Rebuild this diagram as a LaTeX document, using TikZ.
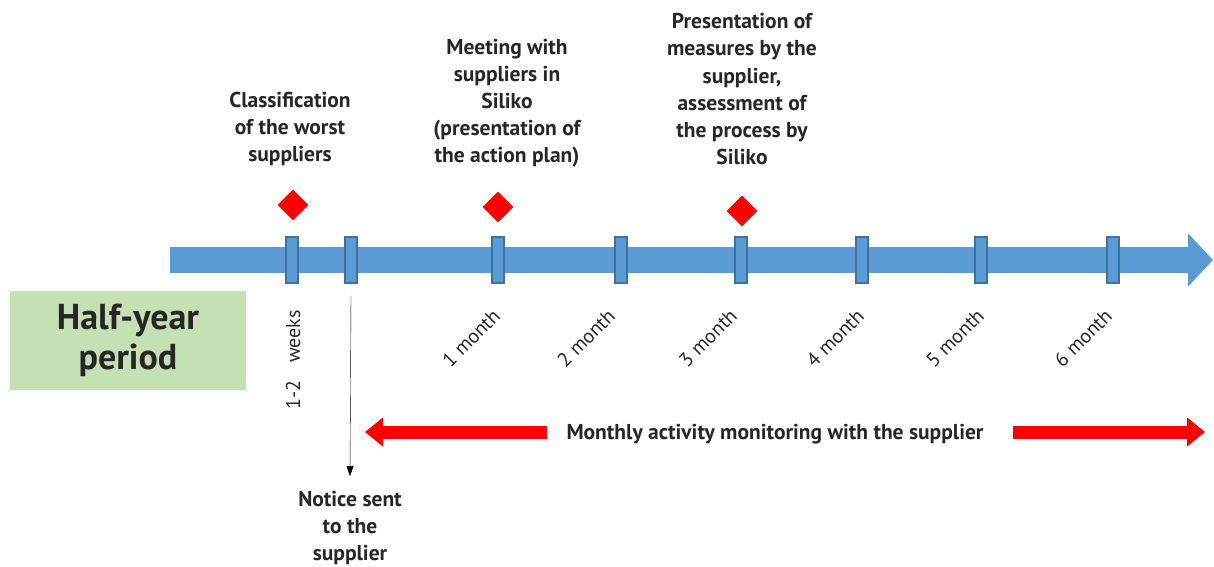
\documentclass[tikz,border=0pt]{standalone}
\usepackage{fontspec}
\setmainfont{PT Sans}
\usetikzlibrary{shapes.geometric,arrows.meta,positioning}
\definecolor{barblue}{HTML}{5B9BD5}
\definecolor{tickline}{HTML}{41719C}
\definecolor{boxgreen}{HTML}{C5E0B4}
\definecolor{txtdark}{HTML}{262626}
\tikzset{
  event/.style={font=\bfseries\fontsize{21.5}{27}\selectfont, text=txtdark, align=center, inner sep=2pt},
  tickbox/.style={draw=tickline, fill=barblue, line width=1.2pt, minimum width=12pt, minimum height=46pt, inner sep=0pt},
  milestone/.style={diamond, fill=red, minimum width=31pt, minimum height=31pt, inner sep=0pt},
  monthlabel/.style={font=\fontsize{20}{24}\selectfont, text=txtdark, rotate=45, inner sep=1pt},
  redarrow/.style={draw=red, line width=13pt, -{Triangle[width=28pt,length=18pt]}}
}
\begin{document}
\begin{tikzpicture}[x=1pt, y=-1pt]
        \useasboundingbox (0,0) rectangle (1214,566);

        % Timeline
        \draw [barblue, line width=26pt, -{Triangle[width=52pt,length=25pt]}] (170,260) -- (1213,260);
        \foreach \x [count=\i] in {292, 351, 498, 621, 741, 862, 981, 1113}{
            \node[tickbox] (t\i) at (\x, 260){};
        }

        % Milestones
        \node[milestone] (d1) at (293, 205){};
        \node[milestone] (d2) at (498, 207){};
        \node[milestone] (d3) at (742, 211){};
        \node[event] (e1) at (290, 129){Classification\\of the worst\\suppliers};
        \node[event] (e2) at (507, 103){Meeting with\\suppliers in\\Siliko\\(presentation of\\the action plan)};
        \node[event] (e3) at (742, 89){Presentation of\\measures by the\\supplier,\\assessment of\\the process by\\Siliko};

        % Period
        \node[fill=boxgreen, minimum width=236pt, minimum height=99pt, align=center,
              font=\bfseries\fontsize{36}{40}\selectfont, text=txtdark] (period) at (128, 340.5){Half-year\\period};
        \node[font=\fontsize{20}{24}\selectfont, text=txtdark, rotate=90] (weeks) at (293, 360){1-2\hspace{18pt}weeks};
        \foreach \x/\m in {471/1, 586/2, 708/3, 835/4, 955/5, 1083/6}{
            \node[monthlabel] (m\m) at (\x, 338){\m\ month};
        }

        % Notice
        \node[event] (notice) at (350, 528){Notice sent\\to the\\supplier};
        \draw [-{Triangle[width=7pt,length=10pt]}] ([yshift=-12pt]t2.south) -- ([yshift=13pt]notice.north);

        % Monitoring
        \node[event] (monthly) at (775, 434){Monthly activity monitoring with the supplier};
        \coordinate (ls) at (547, 432);
        \coordinate (le) at (365, 432);
        \coordinate (rs) at (1013, 432);
        \coordinate (re) at (1205, 432);
        \draw [redarrow] (ls) -- (le);
        \draw [redarrow] (rs) -- (re);
    \end{tikzpicture}
\end{document}
